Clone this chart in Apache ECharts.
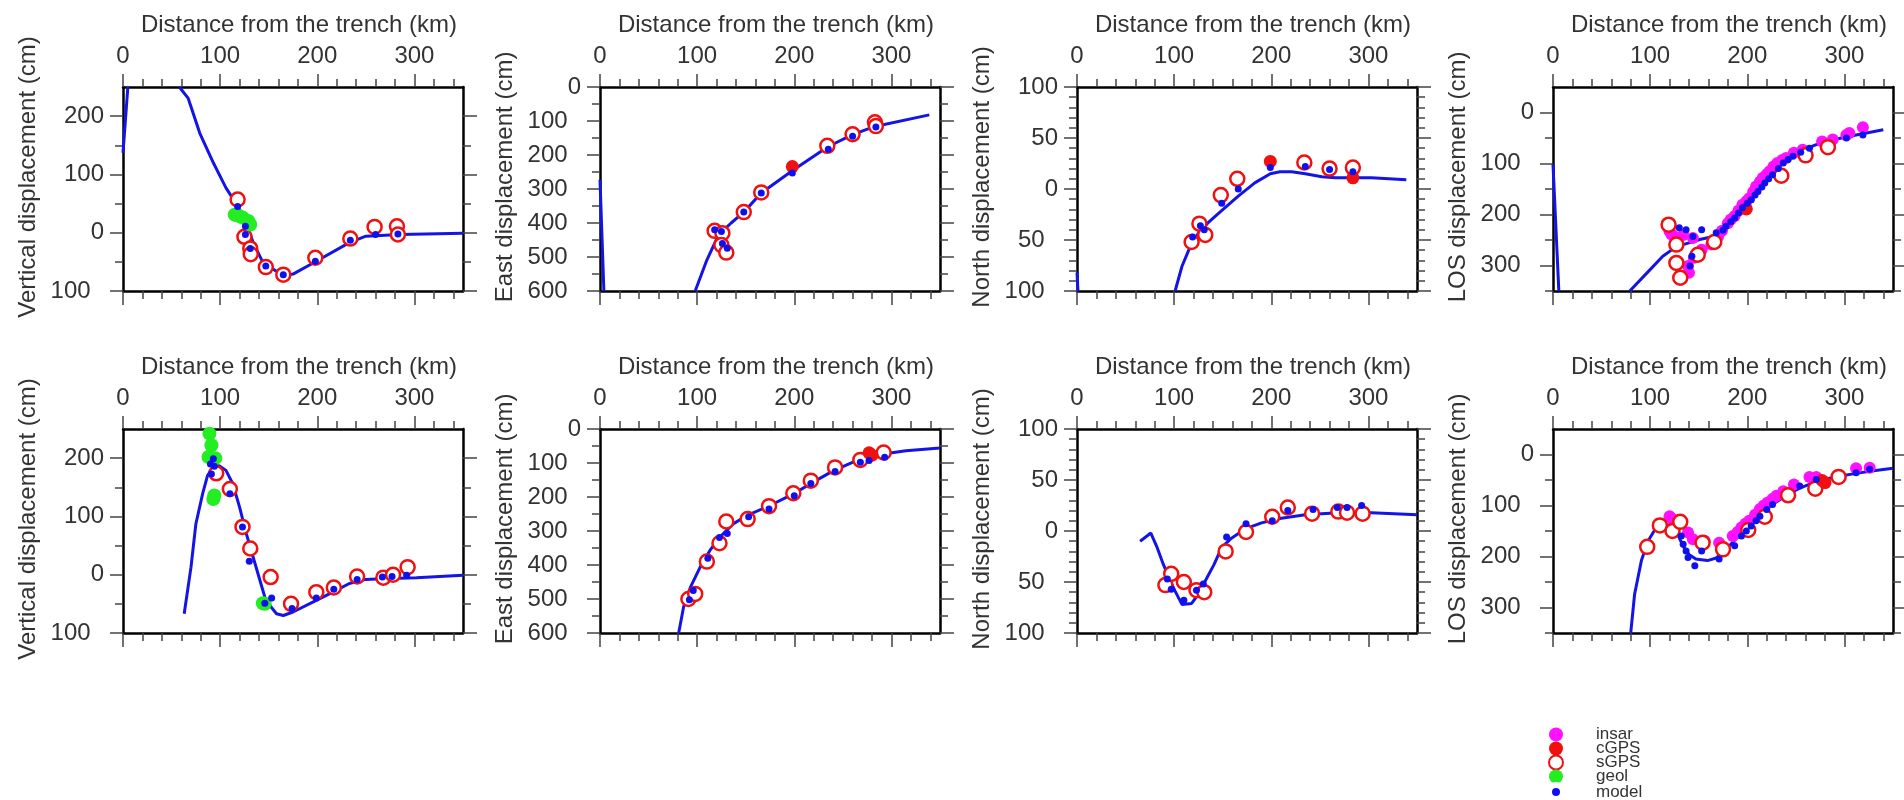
<!DOCTYPE html>
<html><head><meta charset="utf-8">
<script src="https://cdn.jsdelivr.net/npm/echarts@6/dist/echarts.min.js"></script>
<style>html,body{margin:0;padding:0;background:#fff}#c{width:1904px;height:800px}</style>
</head><body><div id="c"></div>
<script>
// ---------- tick values ----------
const xMajor = [0, 100, 200, 300];
const xMinor = [20, 40, 60, 80, 120, 140, 160, 180, 220, 240, 260, 280, 320, 340];
const vertMajor = [-100, 0, 100, 200];
const vertMinor = [-50, 50, 150];
const eastMajor = [-600, -500, -400, -300, -200, -100, 0];
const eastMinor = [-550, -450, -350, -250, -150, -50];
const northMajor = [-100, -50, 0, 50, 100];
const northMinor = [-90, -80, -70, -60, -40, -30, -20, -10, 10, 20, 30, 40, 60, 70, 80, 90];
const losMajor = [-300, -200, -100, 0];
const losMinor = [-350, -250, -150, -50];

// ---------- row 1 data ----------
const vert1LineA = [[0, 137], [5, 250]];
const vert1LineB = [[58, 250], [67, 231], [79, 171], [93, 120], [106, 77], [118, 46], [127, 17], [134, -17], [144, -51], [165, -74], [175, -71], [199, -49], [233, -17], [250, -6], [285, -3], [350, -1]];
const vert1Model = [[118, 45], [126, 11], [126, -3], [131, -27], [147, -57], [165, -72], [198, -49], [234, -13], [260, -3], [283, -2]];
const vert1SGPS = [[118, 57], [125, -7], [131, -27], [131.5, -37], [147, -59], [165, -72], [198, -43], [234, -10], [259, 10], [282, 11], [283, -3]];
const vert1Geol = [[115, 31], [119, 29], [123, 26], [129, 20], [131, 14]];

const east1LineA = [[0, -273], [4, -600]];
const east1LineB = [[98, -600], [110, -509], [122, -435], [135, -400], [148, -368], [166, -312], [199, -244], [235, -175], [260, -140], [283, -116], [339, -82]];
const east1Model = [[118, -420], [125, -425], [126, -460], [131, -474], [148, -368], [166, -312], [198, -253], [235, -183], [260, -145], [284, -118]];
const east1SGPS = [[118, -423], [126, -430], [125, -465], [130, -487], [148, -368], [166, -310], [234, -173], [260, -139], [283, -104], [284, -115]];
const east1CGPS = [[198, -234]];

const north1LineA = [[0, -82], [1, -100]];
const north1LineB = [[101, -100], [108, -76], [115, -60], [125, -43], [135, -33], [148, -22], [166, -7], [183, 6], [199, 15], [209, 17], [221, 17], [235, 15], [252, 12], [266, 11], [303, 11], [339, 9]];
const north1Model = [[119, -47], [127, -36], [131, -40], [149, -14], [166, 0], [199, 21], [235, 22], [260, 19], [284, 17]];
const north1SGPS = [[118, -52], [126, -34], [132, -45], [148, -6], [165, 10], [234, 26], [260, 20], [284, 21]];
const north1CGPS = [[199, 27], [284, 11]];

const los1LineA = [[0, -102], [6, -350]];
const los1LineB = [[79, -350], [99, -310], [113, -282], [127, -263], [139, -256], [151, -249], [165, -243], [175, -233], [185, -213], [195, -190], [209, -155], [223, -122], [237, -96], [254, -76], [271, -63], [292, -52], [312, -44], [340, -34]];
const los1Insar = [[120, -233], [122, -239], [125, -243], [134, -240], [139, -301], [140, -314], [144, -246], [145, -285], [153, -269], [163, -259], [170, -243], [174, -232], [180, -217], [183, -210], [187, -203], [191, -192], [195, -181], [199, -174], [202, -168], [206, -156], [209, -145], [213, -136], [216, -128], [220, -121], [223, -115], [227, -106], [231, -99], [236, -93], [240, -89], [248, -79], [257, -73], [277, -57], [288, -53], [302, -44], [305, -40], [319, -29]];
const los1Model = [[130, -226], [137, -230], [141, -301], [143, -282], [144, -243], [153, -230], [168, -236], [175, -231], [178, -223], [183, -214], [187, -207], [191, -197], [195, -187], [200, -178], [204, -171], [208, -162], [211, -155], [215, -146], [218, -138], [222, -130], [226, -122], [232, -110], [237, -99], [242, -92], [247, -86], [255, -78], [264, -70], [302, -50], [319, -44]];
const los1SGPS = [[119, -220], [127, -259], [127, -295], [131, -324], [149, -279], [166, -254], [235, -124], [260, -84], [283, -68]];
const los1CGPS = [[199, -189]];

// ---------- row 2 data ----------
const vert2Line = [[63, -67], [70, 13], [75, 87], [82, 139], [87, 170], [93, 185], [99, 187], [106, 179], [113, 156], [120, 116], [127, 70], [134, 30], [141, -10], [147, -44], [158, -67], [165, -70], [175, -64], [199, -44], [216, -30], [233, -15], [250, -8], [267, -7], [302, -5], [350, -1]];
const vert2Model = [[93, 199], [90, 190], [94, 186], [91, 173], [110, 139], [123, 82], [130, 23], [146, -49], [153, -40], [174, -58], [199, -40], [217, -25], [241, -8], [267, -4], [277, -3], [292, -1]];
const vert2SGPS = [[96, 174], [110, 147], [123, 82], [131, 45], [152, -4], [173, -50], [199, -30], [217, -22], [241, -3], [268, -5], [278, 0], [293, 13]];
const vert2Geol = [[89, 242], [91, 222], [88, 202], [95, 200], [94, 136], [93, 130], [146, -50], [144, -49]];

const east2Line = [[81, -600], [86, -524], [93, -466], [103, -407], [113, -358], [123, -319], [137, -279], [151, -255], [175, -225], [199, -191], [219, -157], [240, -123], [264, -93], [288, -75], [315, -64], [350, -56]];
const east2Model = [[92, -502], [96, -475], [111, -380], [123, -319], [131, -307], [153, -258], [174, -235], [200, -196], [217, -160], [242, -125], [268, -98], [277, -93], [293, -83]];
const east2SGPS = [[91, -500], [98, -485], [110, -390], [123, -336], [130, -272], [152, -265], [174, -227], [199, -189], [217, -152], [242, -113], [268, -91], [292, -69]];
const east2CGPS = [[277, -70], [280, -77]];

const north2Line = [[65, -10], [76, -2], [82, -15], [89, -33], [96, -49], [101, -59], [108, -72], [118, -71], [125, -62], [132, -49], [141, -33], [149, -16], [159, -7], [173, 2], [190, 8], [207, 12], [235, 16], [269, 18], [303, 18], [350, 16]];
const north2Model = [[93, -47], [97, -57], [110, -68], [123, -58], [130, -52], [154, -6], [174, 7], [201, 10], [217, 20], [243, 21], [268, 23], [278, 23], [293, 25]];
const north2SGPS = [[91, -53], [97, -42], [110, -50], [123, -58], [131, -60], [153, -20], [174, -1], [201, 14], [217, 23], [242, 17], [269, 19], [278, 18], [294, 17]];

const los2Line = [[80, -350], [84, -274], [91, -208], [98, -169], [105, -147], [112, -138], [120, -138], [128, -155], [134, -180], [140, -196], [147, -205], [159, -208], [168, -203], [175, -192], [185, -172], [194, -155], [204, -137], [213, -118], [226, -98], [242, -78], [254, -66], [271, -53], [290, -44], [312, -37], [330, -32], [350, -27]];
const los2Insar = [[120, -121], [122, -125], [139, -153], [144, -166], [156, -169], [171, -173], [185, -160], [190, -152], [194, -143], [198, -136], [202, -130], [208, -118], [213, -107], [217, -100], [221, -94], [226, -87], [230, -81], [237, -72], [248, -59], [264, -44], [271, -44], [312, -27], [326, -26]];
const los2Model = [[132, -160], [134, -176], [137, -189], [139, -202], [146, -218], [153, -189], [171, -205], [187, -179], [194, -160], [199, -150], [204, -140], [209, -130], [213, -121], [220, -108], [226, -98], [254, -62], [271, -49], [312, -36], [326, -29]];
const los2SGPS = [[97, -181], [110, -139], [123, -150], [131, -132], [154, -173], [175, -186], [201, -148], [218, -122], [242, -80], [270, -67], [294, -44]];
const los2CGPS = [[277, -51], [280, -55]];

// ---------- names ----------
const xName = 'Distance from the trench (km)';
const yNames = ['Vertical displacement (cm)', 'East displacement (cm)', 'North displacement (cm)', 'LOS displacement (cm)'];
const legendNames = ['insar', 'cGPS', 'sGPS', 'geol', 'model'];

// ---------- layout / style ----------
const FONT = 'Liberation Sans';
const TXT = '#333';
const gridLefts = [123, 600, 1077, 1553];
const gridTops = [87, 429];
const GW = 340, GH = 204;

const C_LINE = '#1414e6', C_MODEL = '#1010ee', C_RED = '#f01010', C_MAG = '#ff10ff', C_GEOL = '#22ee22';

const yConf = [
  {min: -100, max: 250, major: vertMajor, minor: vertMinor},
  {min: -600, max: 0, major: eastMajor, minor: eastMinor},
  {min: -100, max: 100, major: northMajor, minor: northMinor},
  {min: -350, max: 50, major: losMajor, minor: losMinor}
];

const panels = [
  {row: 0, col: 0, lines: [vert1LineA, vert1LineB], sgps: vert1SGPS, geol: vert1Geol, model: vert1Model},
  {row: 0, col: 1, lines: [east1LineA, east1LineB], sgps: east1SGPS, cgps: east1CGPS, model: east1Model},
  {row: 0, col: 2, lines: [north1LineA, north1LineB], sgps: north1SGPS, cgps: north1CGPS, model: north1Model},
  {row: 0, col: 3, lines: [los1LineA, los1LineB], insar: los1Insar, sgps: los1SGPS, cgps: los1CGPS, model: los1Model},
  {row: 1, col: 0, lines: [vert2Line], sgps: vert2SGPS, geol: vert2Geol, model: vert2Model},
  {row: 1, col: 1, lines: [east2Line], sgps: east2SGPS, cgps: east2CGPS, model: east2Model},
  {row: 1, col: 2, lines: [north2Line], sgps: north2SGPS, model: north2Model},
  {row: 1, col: 3, lines: [los2Line], insar: los2Insar, sgps: los2SGPS, cgps: los2CGPS, model: los2Model}
];

const fmt = v => (v < 0 ? String(-v) + '\u00a0\u00a0' : String(v));
const tickStyle = {color: '#444', width: 1.5};
const boxLine = {show: true, onZero: false, lineStyle: {color: '#000', width: 2.5}};

const grids = [], xAxes = [], yAxes = [], series = [];

panels.forEach((p, gi) => {
  grids.push({left: gridLefts[p.col], top: gridTops[p.row], width: GW, height: GH, containLabel: false, outerBoundsMode: 'none'});
  const yc = yConf[p.col];
  const xi = xAxes.length, yi = yAxes.length;
  const baseX = {type: 'value', gridIndex: gi, min: 0, max: 350, splitLine: {show: false}};
  xAxes.push(Object.assign({}, baseX, {
    position: 'top', axisLine: boxLine,
    axisTick: {show: true, customValues: xMajor, length: 13, lineStyle: tickStyle},
    axisLabel: {show: true, customValues: xMajor, margin: 19, fontSize: 24, fontFamily: FONT, color: TXT},
    name: xName, nameLocation: 'middle', nameGap: 50,
    nameTextStyle: {fontSize: 24, fontFamily: FONT, color: TXT, padding: [0, 0, 0, 12]}
  }));
  xAxes.push(Object.assign({}, baseX, {
    position: 'top', axisLine: {show: false, onZero: false},
    axisTick: {show: true, customValues: xMinor, length: 8, lineStyle: tickStyle},
    axisLabel: {show: false}
  }));
  xAxes.push(Object.assign({}, baseX, {
    position: 'bottom', axisLine: boxLine,
    axisTick: {show: true, customValues: xMajor, length: 14, lineStyle: tickStyle},
    axisLabel: {show: false}
  }));
  xAxes.push(Object.assign({}, baseX, {
    position: 'bottom', axisLine: {show: false, onZero: false},
    axisTick: {show: true, customValues: xMinor, length: 8, lineStyle: tickStyle},
    axisLabel: {show: false}
  }));

  const baseY = {type: 'value', gridIndex: gi, min: yc.min, max: yc.max, splitLine: {show: false}};
  yAxes.push(Object.assign({}, baseY, {
    position: 'left', axisLine: boxLine,
    axisTick: {show: true, customValues: yc.major, length: 13, lineStyle: tickStyle},
    axisLabel: {show: true, customValues: yc.major, formatter: fmt, margin: 19, fontSize: 24, fontFamily: FONT, color: TXT},
    name: yNames[p.col], nameLocation: 'middle', nameGap: 83,
    nameTextStyle: {fontSize: 24, fontFamily: FONT, color: TXT, padding: [0, 0, 0, 24]}
  }));
  yAxes.push(Object.assign({}, baseY, {
    position: 'left', axisLine: {show: false, onZero: false},
    axisTick: {show: true, customValues: yc.minor, length: 8, lineStyle: tickStyle},
    axisLabel: {show: false}
  }));
  yAxes.push(Object.assign({}, baseY, {
    position: 'right', axisLine: boxLine,
    axisTick: {show: true, customValues: yc.major, length: 14, lineStyle: tickStyle},
    axisLabel: {show: false}
  }));
  yAxes.push(Object.assign({}, baseY, {
    position: 'right', axisLine: {show: false, onZero: false},
    axisTick: {show: true, customValues: yc.minor, length: 8, lineStyle: tickStyle},
    axisLabel: {show: false}
  }));

  const ax = {xAxisIndex: xi, yAxisIndex: yi};
  p.lines.forEach(ld => series.push(Object.assign({
    type: 'line', name: 'model curve', data: ld, symbol: 'none', showSymbol: false,
    lineStyle: {color: C_LINE, width: 3}, z: 2, clip: true, silent: true
  }, ax)));
  if (p.insar) series.push(Object.assign({type: 'scatter', name: 'insar', data: p.insar, symbolSize: 12, itemStyle: {color: C_MAG, opacity: 1}, z: 3}, ax));
  if (p.sgps) series.push(Object.assign({type: 'scatter', name: 'sGPS', data: p.sgps, symbolSize: 14, itemStyle: {color: '#fff', borderColor: C_RED, borderWidth: 2.5, opacity: 1}, z: 4}, ax));
  if (p.cgps) series.push(Object.assign({type: 'scatter', name: 'cGPS', data: p.cgps, symbolSize: 13, itemStyle: {color: C_RED, opacity: 1}, z: 5}, ax));
  if (p.geol) series.push(Object.assign({type: 'scatter', name: 'geol', data: p.geol, symbolSize: 14, itemStyle: {color: C_GEOL, opacity: 1}, z: 6}, ax));
  if (p.model) series.push(Object.assign({type: 'scatter', name: 'model', data: p.model, symbolSize: 7, itemStyle: {color: C_MODEL, opacity: 1}, z: 7}, ax));
});

const option = {
  animation: false,
  backgroundColor: '#fff',
  textStyle: {fontFamily: FONT},
  grid: grids,
  xAxis: xAxes,
  yAxis: yAxes,
  legend: {
    orient: 'vertical', left: 1546, top: 726, height: 200, padding: 0,
    icon: 'circle', itemWidth: 14, itemHeight: 14, itemGap: -3,
    selectedMode: false,
    textStyle: {fontSize: 17, fontFamily: FONT, color: TXT, padding: [0, 0, 0, 28], lineHeight: 14},
    data: legendNames.map(n => n === 'model'
      ? {name: n, itemStyle: {color: C_MODEL, borderColor: '#fff', borderWidth: 6}}
      : {name: n})
  },
  series: series
};

const chart = echarts.init(document.getElementById('c'), null, {renderer: 'canvas'});
chart.setOption(option);
</script>
</body></html>
